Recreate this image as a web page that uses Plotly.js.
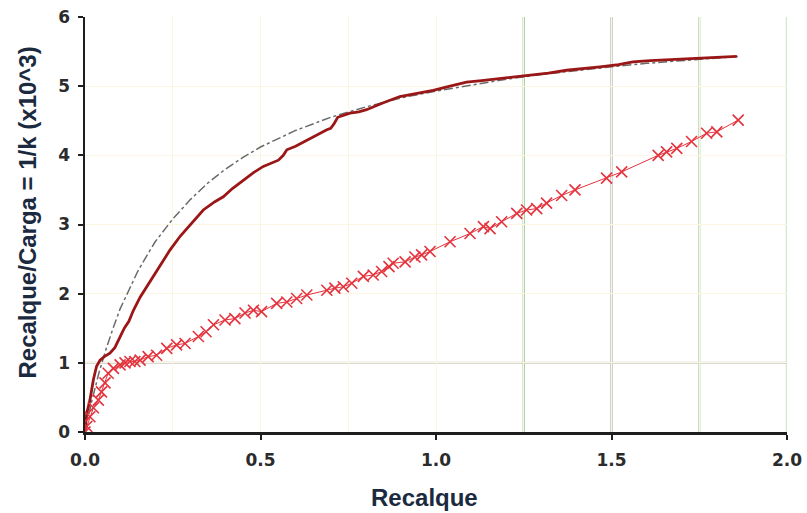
<!DOCTYPE html>
<html>
<head>
<meta charset="utf-8">
<script src="https://cdn.plot.ly/plotly-3.0.1.min.js"></script>
<style>html,body{margin:0;padding:0;background:#fff;}#chart{width:807px;height:513px;}</style>
</head>
<body>
<div id="chart"></div>
<script>
// Measured curve (dark red)
var measX = [0, 0.002, 0.005, 0.014, 0.024, 0.033, 0.043, 0.055, 0.071, 0.085, 0.1, 0.112, 0.125, 0.138, 0.157, 0.176, 0.2, 0.223, 0.242, 0.271, 0.3, 0.337, 0.37, 0.394, 0.42, 0.451, 0.48, 0.508, 0.53, 0.551, 0.565, 0.575, 0.6, 0.632, 0.66, 0.689, 0.7, 0.71, 0.72, 0.74, 0.755, 0.78, 0.802, 0.85, 0.897, 0.95, 0.992, 1.04, 1.087, 1.13, 1.182, 1.23, 1.277, 1.32, 1.372, 1.42, 1.467, 1.52, 1.561, 1.61, 1.657, 1.7, 1.752, 1.8, 1.857];
var measY = [0, 0.15, 0.27, 0.46, 0.76, 0.95, 1.04, 1.09, 1.14, 1.22, 1.38, 1.5, 1.6, 1.76, 1.95, 2.1, 2.3, 2.49, 2.63, 2.83, 3.0, 3.21, 3.33, 3.4, 3.52, 3.64, 3.75, 3.84, 3.89, 3.93, 4.0, 4.08, 4.13, 4.22, 4.29, 4.37, 4.39, 4.46, 4.55, 4.58, 4.61, 4.63, 4.66, 4.76, 4.85, 4.9, 4.94, 5.0, 5.06, 5.08, 5.11, 5.13, 5.16, 5.19, 5.23, 5.26, 5.28, 5.31, 5.35, 5.37, 5.38, 5.39, 5.40, 5.41, 5.43];

// Fitted curve (gray dash-dot)
var fitX = [0, 0.02, 0.04, 0.06, 0.08, 0.1, 0.125, 0.15, 0.175, 0.2, 0.25, 0.3, 0.35, 0.4, 0.45, 0.5, 0.6, 0.7, 0.8, 0.9, 1.0, 1.1, 1.2, 1.3, 1.4, 1.5, 1.6, 1.7, 1.8, 1.86];
var fitY = [0, 0.46, 0.86, 1.2, 1.5, 1.78, 2.05, 2.32, 2.54, 2.75, 3.08, 3.36, 3.6, 3.8, 3.97, 4.12, 4.36, 4.55, 4.7, 4.83, 4.93, 5.02, 5.1, 5.17, 5.23, 5.28, 5.33, 5.37, 5.41, 5.43];

// Recalque/Carga points (x markers)
var ratioX = [0, 0.005, 0.014, 0.024, 0.038, 0.047, 0.057, 0.066, 0.081, 0.1, 0.114, 0.128, 0.142, 0.157, 0.18, 0.204, 0.233, 0.261, 0.285, 0.323, 0.345, 0.366, 0.399, 0.427, 0.456, 0.48, 0.503, 0.546, 0.575, 0.603, 0.632, 0.689, 0.712, 0.736, 0.76, 0.793, 0.821, 0.845, 0.866, 0.878, 0.912, 0.94, 0.959, 0.983, 1.04, 1.097, 1.135, 1.154, 1.187, 1.23, 1.258, 1.287, 1.315, 1.358, 1.396, 1.486, 1.529, 1.633, 1.657, 1.686, 1.728, 1.771, 1.8, 1.861];
var ratioY = [0, 0.08, 0.22, 0.35, 0.46, 0.58, 0.71, 0.85, 0.92, 0.97, 1.0, 1.02, 1.02, 1.04, 1.09, 1.11, 1.21, 1.26, 1.28, 1.38, 1.45, 1.55, 1.62, 1.64, 1.72, 1.76, 1.74, 1.86, 1.88, 1.93, 1.98, 2.05, 2.08, 2.10, 2.15, 2.25, 2.27, 2.32, 2.39, 2.44, 2.46, 2.53, 2.56, 2.61, 2.75, 2.87, 2.97, 2.94, 3.04, 3.16, 3.21, 3.23, 3.31, 3.42, 3.5, 3.67, 3.76, 4.0, 4.05, 4.10, 4.20, 4.32, 4.34, 4.51];

// Tick labels and titles
var xTickVals = [0, 0.5, 1.0, 1.5, 2.0];
var xTickText = ["0.0", "0.5", "1.0", "1.5", "2.0"];
var yTickVals = [0, 1, 2, 3, 4, 5, 6];
var xTitle = "Recalque";
var yTitle = "Recalque/Carga = 1/k (x10^3)";

// Highlighted grid lines
var vGridX = [1.25, 1.5, 1.75, 2.0];
var vGridColor = ["#acd4a8", "#c2c2bd", "#c3e1bf", "#d2e9cf"];
var hGridY = [1];

var shapes = [];
vGridX.forEach(function (v, i) {
  shapes.push({type: "line", xref: "x", yref: "paper", x0: v, x1: v, y0: 0, y1: 1,
    line: {color: vGridColor[i], width: 2.5}, layer: "between"});
});
hGridY.forEach(function (v) {
  shapes.push({type: "line", xref: "paper", yref: "y", x0: 0, x1: 1, y0: v, y1: v,
    line: {color: "#cacac4", width: 2}, layer: "between"});
});

var traces = [
  {x: fitX, y: fitY, mode: "lines", type: "scatter",
   line: {color: "#6a6a6a", width: 1.5, dash: "dashdot"}, hoverinfo: "skip"},
  {x: measX, y: measY, mode: "lines", type: "scatter",
   line: {color: "#9b1616", width: 2.8}},
  {x: ratioX, y: ratioY, mode: "lines+markers", type: "scatter",
   line: {color: "#e5333d", width: 1},
   marker: {symbol: "x-thin-open", size: 11, line: {color: "rgba(238,95,125,0.85)", width: 1.6}}}
];

var tickFont = {family: "DejaVu Sans, Verdana, sans-serif", size: 17, color: "#2b2b2b", weight: "bold"};
var titleFont = {family: "Liberation Sans, Arial, sans-serif", size: 24, color: "#1c2a40", weight: "bold"};

var layout = {
  width: 807, height: 513,
  margin: {l: 85, r: 20, t: 17, b: 81},
  paper_bgcolor: "#ffffff", plot_bgcolor: "#ffffff",
  showlegend: false,
  shapes: shapes,
  annotations: [
    {text: xTitle, xref: "paper", yref: "paper", x: 0.484, y: -0.157, xanchor: "center", yanchor: "middle",
     showarrow: false, font: titleFont},
    {text: yTitle, xref: "paper", yref: "paper", x: 0, y: 0.5, xshift: -58, yshift: 12, textangle: -90,
     xanchor: "center", yanchor: "middle", showarrow: false, font: titleFont}
  ],
  xaxis: {
    range: [0, 2], tickvals: xTickVals, ticktext: xTickText,
    showline: true, linecolor: "#1e1e1e", linewidth: 2.5,
    ticks: "outside", ticklen: 5, tickwidth: 2, tickcolor: "#1e1e1e",
    ticklabelstandoff: 6,
    showgrid: true, gridcolor: "#fbf6e2", gridwidth: 1,
    minor: {dtick: 0.25, tick0: 0, showgrid: true, gridcolor: "#fbf6e2", gridwidth: 1, ticks: ""},
    zeroline: false, tickfont: tickFont
  },
  yaxis: {
    range: [0, 6], tickvals: yTickVals,
    showline: true, linecolor: "#1e1e1e", linewidth: 2.5,
    ticks: "outside", ticklen: 5, tickwidth: 2, tickcolor: "#1e1e1e",
    ticklabelstandoff: 4,
    showgrid: true, gridcolor: "#fbf6e2", gridwidth: 1,
    zeroline: false, tickfont: tickFont
  }
};

Plotly.newPlot("chart", traces, layout, {displayModeBar: false, staticPlot: true});
</script>
</body>
</html>
